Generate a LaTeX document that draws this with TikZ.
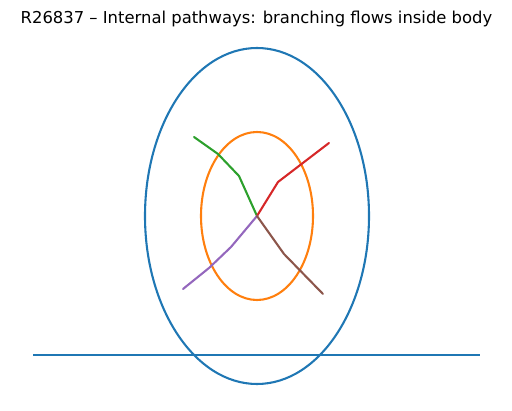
\documentclass[tikz,border=0pt]{standalone}
\usepackage{fontspec}
\setmainfont{DejaVu Sans}
\usepackage{tikz}
\usetikzlibrary{calc,positioning}

\definecolor{tabblue}{HTML}{1F77B4}
\definecolor{taborange}{HTML}{FF7F0E}
\definecolor{tabgreen}{HTML}{2CA02C}
\definecolor{tabred}{HTML}{D62728}
\definecolor{tabpurple}{HTML}{9467BD}
\definecolor{tabbrown}{HTML}{8C564B}

\begin{document}
\begin{tikzpicture}[x=1pt,y=-1pt,
		flow/.style={line width=2.08pt, line join=round, line cap=round}]
			\useasboundingbox (0,0) rectangle (512,411);
			\node[font=\fontsize{16.4}{20}\selectfont] (title) at (256.5,19) {R26837 – Internal pathways: branching flows inside body};

			\coordinate (hub) at (257,216);
			\coordinate (groundL) at (33,355);
			\coordinate (groundR) at (480,355);

			% body and inner zone
			\draw[flow, tabblue] (hub) ellipse [x radius=112, y radius=168];
			\draw[flow, taborange] (hub) ellipse [x radius=56, y radius=84];
			\draw[flow, tabblue, line cap=butt] (groundL) -- (groundR);

			% branches
			\begin{scope}[every path/.style={flow}]
				\draw[tabgreen]  (194,137) -- (218,154) -- (239,176) -- (hub);
				\draw[tabred]    (hub) -- (278,182) -- (329,143);
				\draw[tabpurple] (hub) -- (231,247) -- (209,268) -- (183,289);
				\draw[tabbrown]  (hub) -- (284,254) -- (323,294);
			\end{scope}
		\end{tikzpicture}
\end{document}
